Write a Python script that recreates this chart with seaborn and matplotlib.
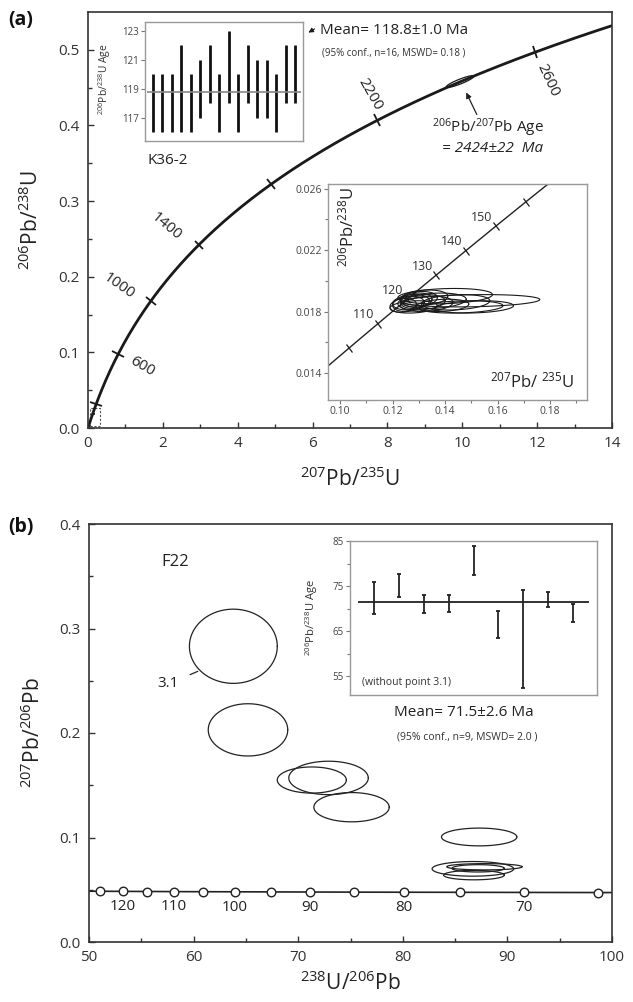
import numpy as np
import pandas as pd
import matplotlib
matplotlib.use('Agg')
import matplotlib.pyplot as plt
import seaborn as sns
from matplotlib.markers import MarkerStyle
from matplotlib.transforms import Affine2D
from matplotlib.patches import Rectangle, FancyArrowPatch

# decay constants (1/Ma) and U ratio
L238 = 1.55125e-4
L235 = 9.8485e-4
U_RATIO = 137.88

# ---- (a) K36-2 ----
conc_tick_ages = [200, 600, 1000, 1400, 1800, 2200, 2600]
conc_label_ages = [600, 1000, 1400, 2200, 2600]
inset_tick_ages = [100, 110, 120, 130, 140, 150, 160]
inset_label_ages = [110, 120, 130, 140, 150]

# old grain ellipse (207/235, 206/238)
old_cx, old_cy, old_sx, old_sy, old_rho = 9.94, 0.458, 0.37, 0.0078, 0.9

# K36-2 ellipses near 119 Ma
k36_cx = [0.124, 0.126, 0.127, 0.129, 0.128, 0.131, 0.130, 0.133, 0.136, 0.132, 0.139, 0.140, 0.144, 0.146, 0.150, 0.151]
k36_cy = [0.0184, 0.0185, 0.0186, 0.0187, 0.0183, 0.0186, 0.0188, 0.0185, 0.0187, 0.0189, 0.0184, 0.0190, 0.0186, 0.0183, 0.0187, 0.0183]
k36_sx = [0.005, 0.006, 0.007, 0.006, 0.009, 0.009, 0.007, 0.010, 0.012, 0.009, 0.010, 0.018, 0.013, 0.016, 0.026, 0.015]
k36_sy = [0.00045, 0.0005, 0.0005, 0.0005, 0.0004, 0.0005, 0.0005, 0.0005, 0.0005, 0.0005, 0.0004, 0.0005, 0.0005, 0.0004, 0.0004, 0.0004]

# weighted mean inset (a)
k36_lo = [116, 116, 116, 116, 116, 117, 118, 116, 118, 116, 118, 117, 117, 116, 118, 118]
k36_hi = [120, 120, 120, 122, 120, 121, 122, 120, 123, 120, 122, 121, 121, 120, 122, 122]
k36_mean = 118.8

# ---- (b) F22 Tera-Wasserburg ----
tw_tick_ages = [65, 70, 75, 80, 85, 90, 95, 100, 105, 110, 115, 120, 125]
tw_label_ages = [70, 80, 90, 100, 110, 120]

f22_cx = [63.8, 65.2, 71.3, 72.9, 75.1, 87.3, 86.7, 86.8, 87.2, 87.8]
f22_cy = [0.283, 0.203, 0.155, 0.157, 0.129, 0.1005, 0.0700, 0.0640, 0.0705, 0.0720]
f22_sx = [4.2, 3.8, 3.3, 3.8, 3.6, 3.6, 3.9, 2.9, 2.5, 3.6]
f22_sy = [0.0355, 0.025, 0.0125, 0.016, 0.014, 0.0085, 0.0070, 0.0045, 0.0035, 0.0030]

f22_lo = [68.8, 72.6, 68.9, 69.3, 77.4, 63.5, 52.3, 70.3, 67.1]
f22_hi = [76.0, 77.6, 73.1, 73.1, 83.9, 69.4, 74.1, 73.7, 71.0]
f22_mean = 71.5


def wetherill(t):
    t = np.asarray(t, dtype=float)
    return np.exp(L235 * t) - 1, np.exp(L238 * t) - 1


def tera(t):
    t = np.asarray(t, dtype=float)
    r68 = np.exp(L238 * t) - 1
    r75 = np.exp(L235 * t) - 1
    return 1 / r68, r75 / r68 / U_RATIO


def ellipse_xy(cx, cy, sx, sy, rho=0.0, n=120):
    th = np.linspace(0, 2 * np.pi, n)
    x = cx + sx * np.cos(th)
    y = cy + sy * (rho * np.cos(th) + np.sqrt(1 - rho ** 2) * np.sin(th))
    return x, y


def curve_angle(ax, fn, t):
    x0, y0 = fn(t - 1)
    x1, y1 = fn(t + 1)
    p0 = ax.transData.transform((x0, y0))
    p1 = ax.transData.transform((x1, y1))
    return np.degrees(np.arctan2(p1[1] - p0[1], p1[0] - p0[0]))


def tick_marks(ax, fn, ages, size, lw=1.1):
    for a in ages:
        ang = curve_angle(ax, fn, a)
        ms = MarkerStyle('|', transform=Affine2D().rotate_deg(ang))
        x, y = fn(a)
        ax.plot([x], [y], marker=ms, ms=size, mew=lw, color='k', zorder=5)


sns.set_theme(style='ticks')
plt.rcParams['font.family'] = ['Open Sans', 'DejaVu Sans']
plt.rcParams['mathtext.fontset'] = 'custom'
plt.rcParams['mathtext.rm'] = 'Open Sans'
plt.rcParams['mathtext.it'] = 'Open Sans:italic'
plt.rcParams['mathtext.default'] = 'regular'

W, H = 633, 1002
fig = plt.figure(figsize=(W / 100, H / 100), dpi=100)


def fx(px):
    return px / W


def fy(py):
    return 1 - py / H


def style_main(ax):
    for s in ax.spines.values():
        s.set_color('#333333')
        s.set_linewidth(1.2)
    ax.tick_params(which='both', direction='in', colors='#333333', labelsize=11,
                   labelcolor='#333333', width=1.0, pad=6)
    ax.tick_params(which='major', length=4)
    ax.tick_params(which='minor', length=3)


def style_inset(ax, fs=7):
    for s in ax.spines.values():
        s.set_color('#999999')
        s.set_linewidth(1.0)
    ax.tick_params(which='both', direction='out', colors='#777777', labelsize=fs,
                   labelcolor='#444444', width=0.8, pad=1.5)
    ax.tick_params(which='major', length=3)
    ax.tick_params(which='minor', length=2)


# ================= (a) main =================
axA = fig.add_axes([fx(88), fy(428), (612 - 88) / W, (428 - 12) / H])
axA.set_xlim(0, 14)
axA.set_ylim(0, 0.55)
ages = np.linspace(0, 2760, 400)
cx_, cy_ = wetherill(ages)
sns.lineplot(data=pd.DataFrame({'x': cx_, 'y': cy_}), x='x', y='y', sort=False,
             estimator=None, color='k', lw=2.0, ax=axA)
tick_marks(axA, wetherill, conc_tick_ages, 9, 1.3)

lab_style = {600: (17, -9, -30), 1000: (-23, 11, -35), 1400: (-24, 13, -40),
             2200: (-5, 19, -60), 2600: (9, -20, -65)}
for a in conc_label_ages:
    x, y = wetherill(a)
    dx, dy, rot = lab_style[a]
    axA.annotate(str(a), (x, y), xytext=(dx, dy), textcoords='offset points',
                 ha='center', va='center', rotation=rot, fontsize=11, color='#222222')

ex, ey = ellipse_xy(old_cx, old_cy, old_sx, old_sy, old_rho)
axA.plot(ex, ey, color='k', lw=0.9, zorder=6)
for i in range(len(k36_cx)):
    ex, ey = ellipse_xy(k36_cx[i], k36_cy[i], k36_sx[i], k36_sy[i], 0.2)
    axA.plot(ex, ey, color='k', lw=0.5)
axA.add_patch(Rectangle((0.05, 0.002), 0.28, 0.025, fill=False, ls=(0, (2, 1.5)),
                        lw=0.8, ec='#555555'))

axA.set_xticks(np.arange(0, 15, 2))
axA.set_xticks(np.arange(1, 14, 2), minor=True)
axA.set_yticks(np.arange(0, 0.51, 0.1))
axA.set_yticks(np.arange(0.05, 0.55, 0.1), minor=True)
axA.set_yticklabels([f'{v:.1f}' for v in np.arange(0, 0.51, 0.1)])
axA.set_xlabel(r'$^{207}$Pb/$^{235}$U', fontsize=15, color='#222222')
axA.set_ylabel(r'$^{206}$Pb/$^{238}$U', fontsize=15, color='#222222')
axA.xaxis.set_label_coords(0.5, -0.095)
axA.yaxis.set_label_coords(-0.085, 0.5)
style_main(axA)

# ---- (a) inset: mean age ----
axA1 = fig.add_axes([fx(145), fy(141), (303 - 145) / W, (141 - 22) / H])
xs = np.arange(1, len(k36_lo) + 1)
axA1.vlines(xs, k36_lo, k36_hi, color='#111111', lw=2.0)
axA1.hlines(k36_mean, 0.4, len(xs) + 0.6, color='#888888', lw=1.2)
axA1.set_xlim(0.16, 16.84)
axA1.set_ylim(115.4, 123.6)
axA1.set_xticks([])
axA1.set_yticks([117, 119, 121, 123])
axA1.set_ylabel(r'$^{206}$Pb/$^{238}$U Age', fontsize=7.5, color='#333333')
axA1.yaxis.set_label_coords(-0.2, 0.52)
style_inset(axA1, 7)

fig.text(fx(320), fy(30), 'Mean= 118.8±1.0 Ma', fontsize=11, color='#222222', va='center')
fig.text(fx(322), fy(53), '(95% conf., n=16, MSWD= 0.18 )', fontsize=7, color='#333333', va='center')
fig.add_artist(FancyArrowPatch((fx(317), fy(27.5)), (fx(306), fy(34)),
                               transform=fig.transFigure, arrowstyle='-|>',
                               mutation_scale=7, color='k', lw=0.8))
fig.text(fx(168), fy(160), 'K36-2', fontsize=11, color='#222222', ha='center', va='center')
fig.text(fx(488), fy(128), r'$^{206}$Pb/$^{207}$Pb Age', fontsize=11, color='#222222',
         ha='center', va='center')
fig.text(fx(493), fy(148), '= 2424±22  Ma', fontsize=11, color='#222222', style='italic',
         ha='center', va='center')
fig.add_artist(FancyArrowPatch((fx(478), fy(117)), (fx(465), fy(90)),
                               transform=fig.transFigure, arrowstyle='-|>',
                               mutation_scale=8, color='#222222', lw=0.9))

# ---- (a) inset: zoomed concordia ----
axA2 = fig.add_axes([fx(328), fy(400), (587 - 328) / W, (400 - 184) / H])
axA2.set_xlim(0.0954, 0.194)
axA2.set_ylim(0.01224, 0.0263)
ages2 = np.linspace(90, 180, 200)
ix, iy = wetherill(ages2)
sns.lineplot(data=pd.DataFrame({'x': ix, 'y': iy}), x='x', y='y', sort=False,
             estimator=None, color='#222222', lw=1.0, ax=axA2)
tick_marks(axA2, wetherill, inset_tick_ages, 7, 0.9)
for a in inset_label_ages:
    x, y = wetherill(a)
    axA2.annotate(str(a), (x, y), xytext=(-10, 6.5), textcoords='offset points',
                  ha='center', va='center', fontsize=9, color='#333333')
for i in range(len(k36_cx)):
    ex, ey = ellipse_xy(k36_cx[i], k36_cy[i], k36_sx[i], k36_sy[i], 0.2)
    axA2.plot(ex, ey, color='k', lw=0.8)
axA2.set_xticks([0.10, 0.12, 0.14, 0.16, 0.18])
axA2.set_xticks([0.11, 0.13, 0.15, 0.17, 0.19], minor=True)
axA2.set_xticklabels(['0.10', '0.12', '0.14', '0.16', '0.18'])
axA2.set_yticks([0.014, 0.018, 0.022, 0.026])
axA2.set_yticks([0.016, 0.020, 0.024], minor=True)
axA2.set_yticklabels(['0.014', '0.018', '0.022', '0.026'])
axA2.set_xlabel('')
axA2.set_ylabel('')
axA2.text(0.077, 0.80, r'$^{206}$Pb/$^{238}$U', transform=axA2.transAxes, rotation=90,
          fontsize=12, ha='center', va='center', color='#222222')
axA2.text(0.79, 0.085, r'$^{207}$Pb/ $^{235}$U', transform=axA2.transAxes,
          fontsize=12, ha='center', va='center', color='#222222')
style_inset(axA2, 7.5)

fig.text(fx(8), fy(20), '(a)', fontsize=14, fontweight='bold', va='center', color='#111111')

# ================= (b) main =================
axB = fig.add_axes([fx(89), fy(942), (612 - 89) / W, (942 - 524) / H])
axB.set_xlim(50, 100)
axB.set_ylim(0, 0.4)
ages3 = np.linspace(63, 132, 300)
tx, ty = tera(ages3)
sns.lineplot(data=pd.DataFrame({'x': tx, 'y': ty}), x='x', y='y', sort=False,
             estimator=None, color='#222222', lw=1.2, ax=axB)
mx, my = tera(tw_tick_ages)
sns.scatterplot(x=mx, y=my, ax=axB, s=38, marker='o', facecolor='white',
                edgecolor='#222222', linewidth=1.0, zorder=5)
for a in tw_label_ages:
    x, y = tera(a)
    axB.annotate(str(a), (x, y), xytext=(0, -11), textcoords='offset points',
                 ha='center', va='center', fontsize=11, color='#222222')
for i in range(len(f22_cx)):
    ex, ey = ellipse_xy(f22_cx[i], f22_cy[i], f22_sx[i], f22_sy[i], 0.0)
    axB.plot(ex, ey, color='#222222', lw=0.9)
axB.annotate('3.1', (60.4, 0.259), xytext=(57.6, 0.247), fontsize=11, color='#222222',
             ha='center', va='center',
             arrowprops=dict(arrowstyle='-', color='#222222', lw=0.9, shrinkA=6, shrinkB=0))
axB.text(0.165, 0.91, 'F22', transform=axB.transAxes, fontsize=12, color='#222222',
         ha='center', va='center')
axB.set_xticks(np.arange(50, 101, 10))
axB.set_xticks(np.arange(55, 100, 10), minor=True)
axB.set_yticks(np.arange(0, 0.41, 0.1))
axB.set_yticks(np.arange(0.05, 0.4, 0.1), minor=True)
axB.set_yticklabels([f'{v:.1f}' for v in np.arange(0, 0.41, 0.1)])
axB.set_xlabel(r'$^{238}$U/$^{206}$Pb', fontsize=15, color='#222222')
axB.set_ylabel(r'$^{207}$Pb/$^{206}$Pb', fontsize=15, color='#222222')
axB.xaxis.set_label_coords(0.5, -0.07)
axB.yaxis.set_label_coords(-0.085, 0.5)
style_main(axB)

# ---- (b) inset ----
axB1 = fig.add_axes([fx(350), fy(695), (597 - 350) / W, (695 - 541) / H])
xs2 = np.arange(1, len(f22_lo) + 1)
mid = (np.array(f22_lo) + np.array(f22_hi)) / 2
err = [mid - np.array(f22_lo), np.array(f22_hi) - mid]
axB1.errorbar(xs2, mid, yerr=err, fmt='none', ecolor='#222222', elinewidth=1.3,
              capsize=1.5, capthick=1.3)
axB1.hlines(f22_mean, 0.36, 9.64, color='#222222', lw=1.3)
axB1.set_xlim(0.036, 9.96)
axB1.set_ylim(50.8, 85)
axB1.set_xticks([])
axB1.set_yticks([55, 65, 75, 85])
axB1.set_yticks([60, 70, 80], minor=True)
axB1.set_ylabel(r'$^{206}$Pb/$^{238}$U Age', fontsize=8, color='#333333')
axB1.yaxis.set_label_coords(-0.12, 0.5)
axB1.text(0.05, 0.08, '(without point 3.1)', transform=axB1.transAxes, fontsize=7.5,
          color='#333333', va='center')
style_inset(axB1, 7)

fig.text(fx(464), fy(712), 'Mean= 71.5±2.6 Ma', fontsize=11, color='#222222',
         ha='center', va='center')
fig.text(fx(467), fy(737), '(95% conf., n=9, MSWD= 2.0 )', fontsize=7.5, color='#333333',
         ha='center', va='center')
fig.text(fx(8), fy(527), '(b)', fontsize=14, fontweight='bold', va='center', color='#111111')

fig.savefig('out.png', dpi=100, facecolor='white')
